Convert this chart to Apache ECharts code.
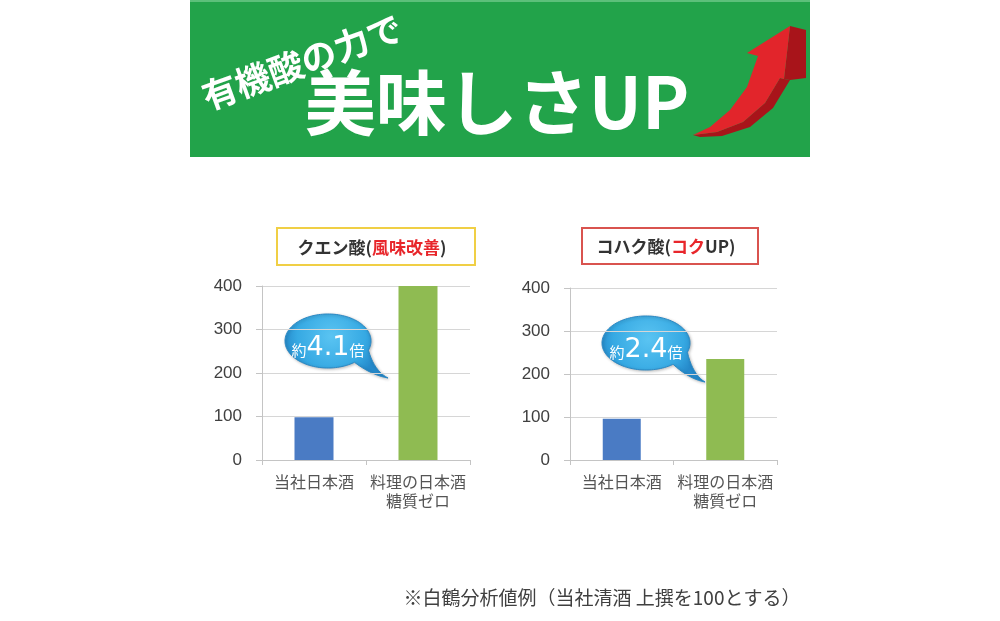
<!DOCTYPE html>
<html>
<head>
<meta charset="utf-8">
<script src="https://cdn.jsdelivr.net/npm/echarts@6/dist/echarts.min.js"></script>
<style>
html,body{margin:0;padding:0;background:#fff;}
#main{width:1000px;height:621px;}
</style>
</head>
<body>
<div id="main"></div>
<script>
// ---- data ----
var categories = ['当社日本酒', '料理の日本酒\n糖質ゼロ'];
var citricValues = [98, 400];
var succinicValues = [96, 235];
var yMin = 0, yMax = 400, yInterval = 100;
var barColors = ['#4a7bc4', '#8fbb52'];
var citricTitle = ['クエン酸(', '風味改善', ')'];
var succinicTitle = ['コハク酸(', 'コク', 'UP)'];
var citricRatio = ['約', '4.1', '倍'];
var succinicRatio = ['約', '2.4', '倍'];
var bannerSmall = '有機酸の力で';
var bannerBig = '美味しさUP';
var footnote = '※白鶴分析値例（当社清酒 上撰を100とする）';

var FONT = '"Noto Sans CJK JP", "Noto Sans", sans-serif';

function barData(vals) {
  return vals.map(function (v, i) {
    return { value: v, itemStyle: { color: barColors[i] } };
  });
}

function quad(p0, c, p1, n, out) {
  for (var i = 1; i <= n; i++) {
    var t = i / n, u = 1 - t;
    out.push([u * u * p0[0] + 2 * u * t * c[0] + t * t * p1[0], u * u * p0[1] + 2 * u * t * c[1] + t * t * p1[1]]);
  }
  return out;
}

function bubblePoints(rx, ry, tx, ty) {
  var a1 = 20, a2 = 52 - 360;
  var pts = [];
  for (var a = a1; a >= a2; a -= 3) {
    var r = a * Math.PI / 180;
    pts.push([rx * Math.cos(r), ry * Math.sin(r)]);
  }
  var r2 = a2 * Math.PI / 180;
  var p2 = [rx * Math.cos(r2), ry * Math.sin(r2)];
  pts.push(p2);
  var r1 = a1 * Math.PI / 180;
  var p1 = [rx * Math.cos(r1), ry * Math.sin(r1)];
  var tip = [tx, ty];
  quad(p2, [p2[0] + (tx - p2[0]) * 0.5, ty - 3], tip, 10, pts);
  quad(tip, [p1[0] + (tx - p1[0]) * 0.3, p1[1] + (ty - p1[1]) * 0.75], p1, 10, pts);
  return pts;
}

function bubble(cx, cy, rx, ry, tx, ty, parts) {
  return {
    type: 'group', x: cx, y: cy, z: 100,
    children: [
      {
        type: 'polygon',
        shape: { points: bubblePoints(rx, ry, tx - cx, ty - cy) },
        style: {
          fill: {
            type: 'radial', x: 0.45, y: 0.35, r: 0.75,
            colorStops: [{ offset: 0, color: '#5ac4f2' }, { offset: 0.7, color: '#36a9e3' }, { offset: 1, color: '#2589ca' }]
          },
          stroke: '#2a88c4', lineWidth: 1,
          shadowBlur: 3, shadowColor: 'rgba(0,0,0,0.25)', shadowOffsetX: 1, shadowOffsetY: 1
        }
      },
      {
        type: 'text', x: 0, y: 7,
        style: {
          text: '{s|' + parts[0] + '}{b|' + parts[1] + '}{s|' + parts[2] + '}',
          align: 'center', verticalAlign: 'middle',
          rich: {
            s: { fontSize: 15, fill: '#fff', fontFamily: FONT, padding: [4, 0, 0, 0] },
            b: { fontSize: 27, fill: '#fff', fontFamily: '"DejaVu Sans", sans-serif' }
          }
        }
      }
    ]
  };
}

function titleBox(x, y, w, h, border, parts) {
  return {
    type: 'group', x: x, y: y, z: 50,
    children: [
      { type: 'rect', shape: { x: 0, y: 0, width: w, height: h },
        style: { fill: '#fff', stroke: border, lineWidth: 2 } },
      { type: 'text', x: w / 2 - 4, y: h / 2 + 1,
        style: {
          text: '{a|' + parts[0] + '}{r|' + parts[1] + '}{a|' + parts[2] + '}',
          align: 'center', verticalAlign: 'middle',
          rich: {
            a: { fontSize: 17, fontWeight: 'bold', fill: '#333', fontFamily: FONT },
            r: { fontSize: 17, fontWeight: 'bold', fill: '#e8262b', fontFamily: FONT }
          }
        }
      }
    ]
  };
}

// arrow shapes (decoration)
var arrowFace = [[790, 26], [784, 79], [780, 78], [765, 103], [743, 122], [717, 132], [693, 135],
  [710, 127], [730, 110], [747, 87], [758, 56], [747, 53]];
var arrowUnder = [[784, 79], [790, 80], [773, 108], [750, 127], [722, 136], [700, 137], [693, 135],
  [717, 132], [743, 122], [765, 103], [780, 78]];
var arrowSide = [[790, 26], [806, 30], [806, 78], [790, 80], [784, 79]];

var yAxisCommon = {
  type: 'value', min: yMin, max: yMax, interval: yInterval,
  axisLine: { show: true, lineStyle: { color: '#c4c4c4' } },
  axisTick: { show: true, length: 6, lineStyle: { color: '#c4c4c4' } },
  splitLine: { lineStyle: { color: '#d6d6d6' } },
  axisLabel: { fontSize: 17, color: '#404040', fontFamily: '"Liberation Sans", Arial, sans-serif', margin: 20 }
};
var xAxisCommon = {
  type: 'category', data: categories,
  axisLine: { lineStyle: { color: '#c4c4c4' } },
  axisTick: { show: true, length: 5, lineStyle: { color: '#c4c4c4' } },
  axisLabel: { fontSize: 16, color: '#555', fontFamily: FONT, margin: 12, lineHeight: 19, interval: 0 }
};

var chart = echarts.init(document.getElementById('main'));
chart.setOption({
  backgroundColor: '#ffffff',
  animation: false,
  grid: [
    { left: 262, top: 286, width: 208, height: 174 },
    { left: 570, top: 288, width: 207, height: 172 }
  ],
  xAxis: [
    Object.assign({ gridIndex: 0 }, xAxisCommon),
    Object.assign({ gridIndex: 1 }, xAxisCommon)
  ],
  yAxis: [
    Object.assign({ gridIndex: 0 }, yAxisCommon),
    Object.assign({ gridIndex: 1 }, yAxisCommon)
  ],
  series: [
    { type: 'bar', name: 'クエン酸', xAxisIndex: 0, yAxisIndex: 0, barWidth: 39, data: barData(citricValues) },
    { type: 'bar', name: 'コハク酸', xAxisIndex: 1, yAxisIndex: 1, barWidth: 38, data: barData(succinicValues) }
  ],
  graphic: [
    { type: 'rect', z: 1, shape: { x: 190, y: 0, width: 620, height: 157 }, style: { fill: '#22a34a' } },
    { type: 'rect', z: 1, shape: { x: 190, y: 0, width: 620, height: 2 }, style: { fill: '#5cc07a' } },
    { type: 'polygon', z: 2, shape: { points: arrowSide }, style: { fill: '#a8141a' } },
    { type: 'polygon', z: 2, shape: { points: arrowUnder }, style: { fill: '#a8141a' } },
    { type: 'polygon', z: 3, shape: { points: arrowFace, smooth: 0 }, style: { fill: '#e2252b' } },
    { type: 'text', z: 5, x: 302, y: 62, rotation: 20 * Math.PI / 180,
      style: { text: bannerSmall, fontSize: 35, fontWeight: 'bold', fill: '#fff', fontFamily: FONT, align: 'center', verticalAlign: 'middle' } },
    { type: 'text', z: 5, x: 497, y: 102,
      style: { text: bannerBig, fontSize: 71, fontWeight: 'bold', fill: '#fff', fontFamily: FONT, align: 'center', verticalAlign: 'middle' } },
    titleBox(277, 228, 198, 37, '#f0cf45', citricTitle),
    titleBox(582, 228, 176, 36, '#d9534f', succinicTitle),
    bubble(328, 341, 43, 27, 388, 378, citricRatio),
    bubble(646, 343, 44, 27, 705, 382, succinicRatio),
    { type: 'text', z: 5, x: 602, y: 598,
      style: { text: footnote, fontSize: 19, fill: '#404040', fontFamily: FONT, align: 'center', verticalAlign: 'middle' } }
  ]
});
</script>
</body>
</html>
